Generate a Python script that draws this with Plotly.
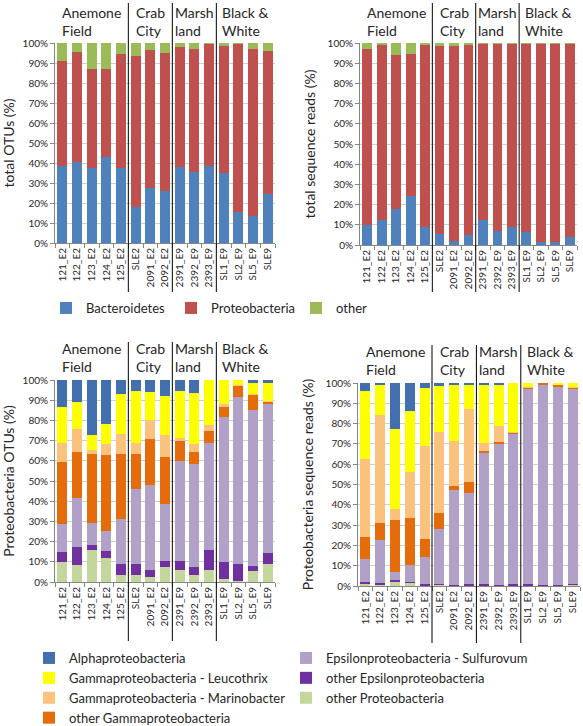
import plotly.graph_objects as go

W, H = 583, 726
FONT = "Lato"

samples = ["121_E2", "122_E2", "123_E2", "124_E2", "125_E2", "SLE2", "2091_E2", "2092_E2",
           "2391_E9", "2392_E9", "2393_E9", "SL1_E9", "SL2_E9", "SL5_E9", "SLE9"]
groups = ["Anemone<br>Field", "Crab<br>City", "Marsh<br>land", "Black &<br>White"]
group_sizes = [5, 3, 3, 4]

# Panel A: total OTUs (%)
otu_bacteroidetes = [38.5, 40.5, 37.5, 43.0, 37.5, 17.8, 27.4, 26.2, 37.9, 35.7, 38.5, 35.0, 15.6, 13.6, 24.4]
otu_proteobacteria = [52.4, 54.8, 49.7, 43.9, 57.0, 75.6, 68.9, 69.0, 60.1, 61.1, 61.2, 63.5, 84.2, 83.2, 71.8]
otu_other = [9.1, 4.7, 12.8, 13.1, 5.5, 6.6, 3.7, 4.8, 2.0, 3.2, 0.3, 1.5, 0.2, 3.2, 3.8]

# Panel B: total sequence reads (%)
read_bacteroidetes = [9.9, 12.5, 17.8, 24.3, 8.7, 5.3, 2.1, 4.8, 12.5, 6.9, 9.0, 6.4, 1.5, 1.5, 3.9]
read_proteobacteria = [87.3, 86.7, 76.3, 70.1, 90.5, 93.1, 96.4, 94.7, 87.3, 92.9, 90.8, 93.4, 98.3, 98.3, 95.9]
read_other = [2.8, 0.8, 5.9, 5.6, 0.8, 1.6, 1.5, 0.5, 0.2, 0.2, 0.2, 0.2, 0.2, 0.2, 0.2]

# Panel C: Proteobacteria OTUs (%)
potu_other_proteo = [9.8, 8.3, 15.7, 12.1, 3.6, 3.3, 2.5, 7.4, 6.1, 3.6, 6.1, 1.7, 0.3, 5.5, 8.8]
potu_other_eps = [5.1, 9.1, 2.8, 3.3, 5.2, 5.5, 3.6, 3.0, 4.3, 3.8, 9.6, 8.2, 8.8, 2.3, 5.7]
potu_sulfurovum = [14.0, 24.3, 10.8, 9.9, 22.6, 37.0, 41.8, 28.1, 49.6, 50.9, 52.9, 71.9, 82.3, 77.3, 73.6]
potu_other_gamma = [30.3, 22.8, 34.0, 37.5, 32.2, 17.8, 22.7, 23.5, 9.8, 6.2, 6.3, 4.6, 6.1, 7.6, 1.2]
potu_marinobacter = [9.4, 11.0, 2.0, 5.3, 9.5, 5.0, 9.6, 10.7, 1.6, 3.8, 2.8, 1.7, 0.1, 0.2, 0.3]
potu_leucothrix = [18.2, 13.8, 7.4, 9.9, 19.8, 25.9, 14.0, 19.4, 23.1, 25.4, 22.3, 11.9, 2.4, 5.4, 8.7]
potu_alpha = [13.2, 10.7, 27.3, 22.0, 7.1, 5.5, 5.8, 7.9, 5.5, 6.3, 0.0, 0.0, 0.0, 1.7, 1.7]

# Panel D: Proteobacteria sequence reads (%)
pread_other_proteo = [1.2, 0.8, 2.3, 1.5, 0.3, 0.5, 0.2, 0.2, 0.1, 0.1, 0.1, 0.1, 0.1, 0.1, 0.7]
pread_other_eps = [0.8, 0.7, 0.5, 0.5, 0.5, 0.7, 0.5, 0.6, 1.1, 0.6, 1.1, 1.1, 0.6, 0.2, 0.5]
pread_sulfurovum = [11.2, 21.1, 4.1, 8.2, 13.5, 27.1, 46.6, 45.2, 64.2, 69.3, 74.1, 96.3, 98.8, 98.1, 96.3]
pread_other_gamma = [11.0, 8.5, 25.6, 23.4, 9.1, 7.9, 2.1, 5.1, 1.2, 0.8, 0.5, 0.5, 0.5, 0.8, 0.4]
pread_marinobacter = [38.4, 52.9, 5.4, 22.4, 45.8, 39.6, 22.1, 36.2, 3.7, 8.1, 0.1, 0.1, 0.0, 0.1, 0.1]
pread_leucothrix = [33.3, 14.8, 39.5, 30.3, 28.3, 22.6, 28.0, 11.5, 28.9, 20.6, 24.1, 1.9, 0.0, 0.7, 2.0]
pread_alpha = [4.1, 1.2, 22.6, 13.7, 2.5, 1.6, 0.5, 1.2, 0.8, 0.5, 0.0, 0.0, 0.0, 0.0, 0.0]

top_names = ["Bacteroidetes", "Proteobacteria", "other"]
top_colors = ["#4F81BD", "#C0504D", "#9BBB59"]

bot_names = ["other Proteobacteria", "other Epsilonproteobacteria", "Epsilonproteobacteria - Sulfurovum",
             "other Gammaproteobacteria", "Gammaproteobacteria - Marinobacter",
             "Gammaproteobacteria - Leucothrix", "Alphaproteobacteria"]
bot_colors = ["#C3D69B", "#7030A0", "#B1A0C7", "#E46C0A", "#FAC27D", "#FFFF00", "#4270AE"]
bot_legends = ["legend3", "legend3", "legend3", "legend2", "legend2", "legend2", "legend2"]


def px_x(p):
    return p / W


def px_y(p):
    return 1 - p / H


fig = go.Figure()

panelA = [otu_bacteroidetes, otu_proteobacteria, otu_other]
panelB = [read_bacteroidetes, read_proteobacteria, read_other]
panelC = [potu_other_proteo, potu_other_eps, potu_sulfurovum, potu_other_gamma,
          potu_marinobacter, potu_leucothrix, potu_alpha]
panelD = [pread_other_proteo, pread_other_eps, pread_sulfurovum, pread_other_gamma,
          pread_marinobacter, pread_leucothrix, pread_alpha]

for i, vals in enumerate(panelA):
    fig.add_trace(go.Bar(x=samples, y=vals, name=top_names[i], marker_color=top_colors[i],
                         xaxis="x", yaxis="y", legend="legend", showlegend=True))
for i, vals in enumerate(panelB):
    fig.add_trace(go.Bar(x=samples, y=vals, name=top_names[i], marker_color=top_colors[i],
                         xaxis="x2", yaxis="y2", showlegend=False))
for i, vals in enumerate(panelC):
    fig.add_trace(go.Bar(x=samples, y=vals, name=bot_names[i], marker_color=bot_colors[i],
                         xaxis="x3", yaxis="y3", legend=bot_legends[i], showlegend=True))
for i, vals in enumerate(panelD):
    fig.add_trace(go.Bar(x=samples, y=vals, name=bot_names[i], marker_color=bot_colors[i],
                         xaxis="x4", yaxis="y4", showlegend=False))

fig.update_traces(marker_line_width=0)

# panel geometry in pixels: (left, right, top, bottom)
panels = {
    "1": (55, 275, 43, 243),
    "2": (360, 577, 43, 245),
    "3": (55, 275, 380, 582),
    "4": (358, 580, 383, 586),
}
titles = {"1": "total OTUs (%)", "2": "total sequence reads (%)",
          "3": "Proteobacteria OTUs (%)", "4": "Proteobacteria sequence reads (%)"}
axis_col = "#868686"
text_col = "#262626"

layout_axes = {}
for k, (l, r, t, b) in panels.items():
    xs = "xaxis" if k == "1" else "xaxis" + k
    ys = "yaxis" if k == "1" else "yaxis" + k
    yid = "y" if k == "1" else "y" + k
    xid = "x" if k == "1" else "x" + k
    layout_axes[xs] = dict(domain=[px_x(l), px_x(r)], anchor=yid, type="category",
                           tickson="boundaries", ticks="outside", ticklen=4, tickcolor=axis_col,
                           showline=True, linecolor=axis_col, linewidth=1, tickangle=-90,
                           tickfont=dict(size=10, color=text_col), showgrid=False,
                           range=[-0.5, len(samples) - 0.5], automargin=False)
    layout_axes[ys] = dict(domain=[px_y(b), px_y(t)], anchor=xid, range=[0, 100], dtick=10,
                           ticksuffix="%", ticks="outside", ticklen=4, tickcolor=axis_col,
                           showline=True, linecolor=axis_col, linewidth=1,
                           showgrid=True, gridcolor="#D0D0D0", gridwidth=1,
                           tickfont=dict(size=10, color=text_col),
                           title=dict(text=titles[k], font=dict(size=14, color=text_col), standoff=8),
                           zeroline=False, automargin=False)

shapes = []
annotations = []
sep_extent = {"1": (3, 292), "2": (3, 292), "3": (342, 641), "4": (345, 643)}
label_bottom = {"1": 41, "2": 41, "3": 377, "4": 380}
for k in panels:
    xid = "x" if k == "1" else "x" + k
    start = 0
    for gi, size in enumerate(group_sizes):
        center = start + (size - 1) / 2
        annotations.append(dict(x=center, xref=xid, y=px_y(label_bottom[k]), yref="paper",
                                text=groups[gi], showarrow=False, xanchor="center",
                                yanchor="bottom", align="left",
                                font=dict(size=14, color=text_col, family=FONT)))
        start += size
        if gi < len(group_sizes) - 1:
            y0, y1 = sep_extent[k]
            shapes.append(dict(type="line", xref=xid, yref="paper",
                               x0=start - 0.5, x1=start - 0.5,
                               y0=px_y(y1), y1=px_y(y0),
                               line=dict(color="black", width=1)))

fig.update_layout(
    width=W, height=H,
    margin=dict(l=0, r=0, t=0, b=0, autoexpand=False),
    paper_bgcolor="white", plot_bgcolor="white",
    barmode="stack", bargap=0.32,
    font=dict(family=FONT, color=text_col),
    shapes=shapes, annotations=annotations,
    legend=dict(orientation="h", x=px_x(46), y=px_y(308), xanchor="left", yanchor="middle",
                font=dict(size=13, color=text_col), entrywidth=80, traceorder="normal",
                bgcolor="rgba(0,0,0,0)"),
    legend2=dict(orientation="v", x=px_x(29), y=px_y(643), xanchor="left", yanchor="top",
                 font=dict(size=13, color=text_col), traceorder="reversed",
                 bgcolor="rgba(0,0,0,0)"),
    legend3=dict(orientation="v", x=px_x(286), y=px_y(643), xanchor="left", yanchor="top",
                 font=dict(size=13, color=text_col), traceorder="reversed",
                 bgcolor="rgba(0,0,0,0)"),
    **layout_axes,
)

fig.write_html("out.html", config={"displayModeBar": False},
               post_script="document.body.style.margin='0';document.body.style.overflow='hidden';")
